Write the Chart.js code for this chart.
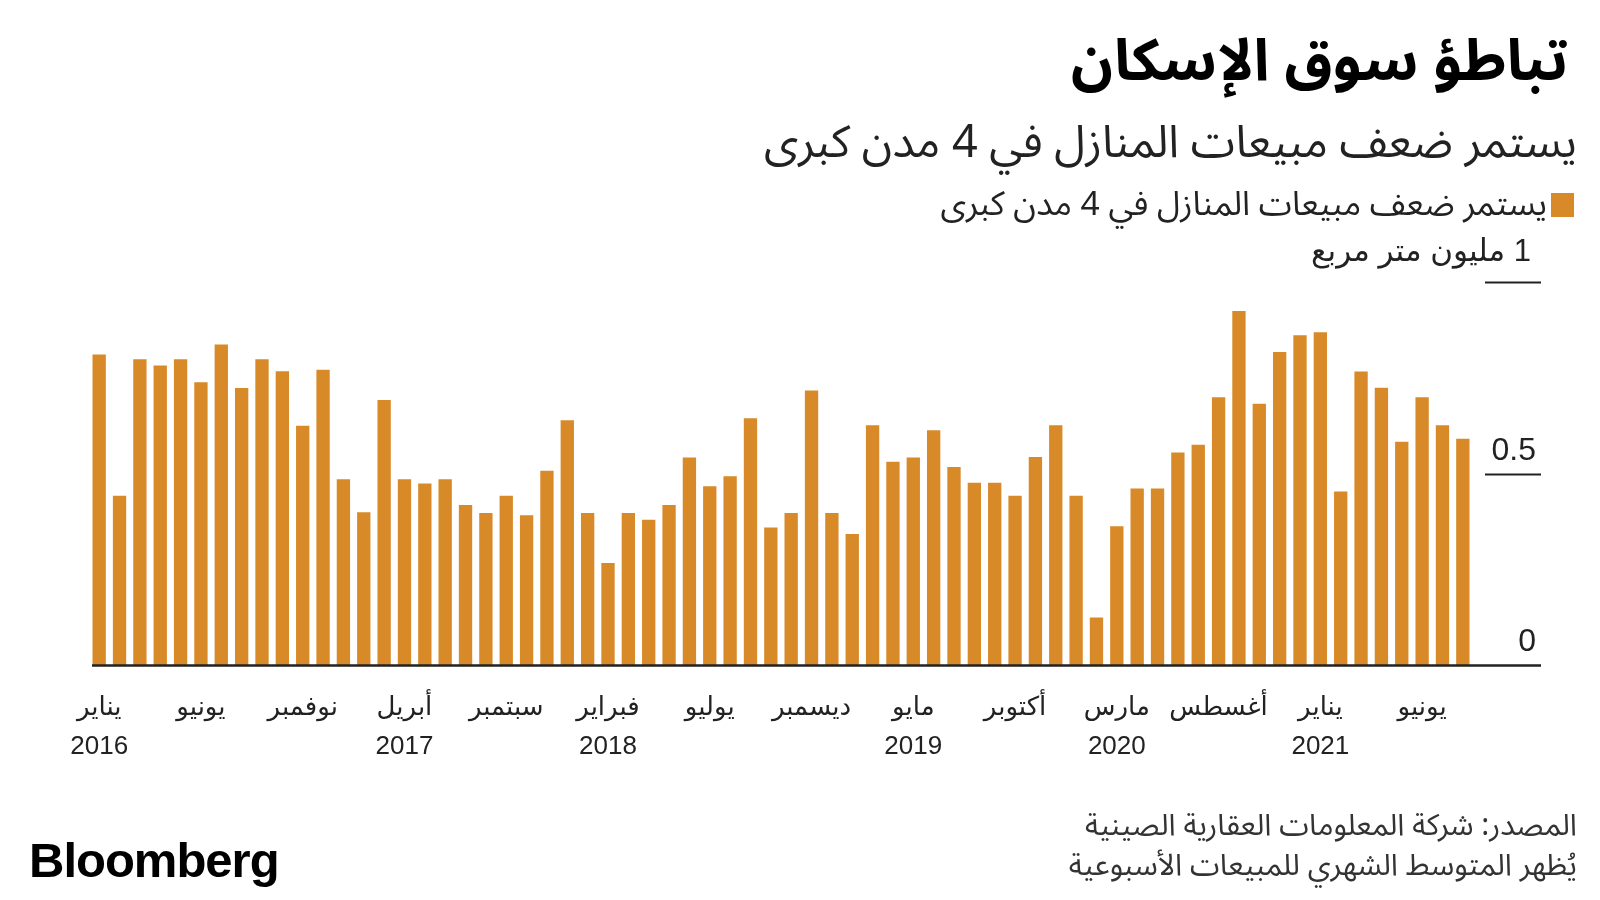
<!DOCTYPE html>
<html lang="ar">
<head>
<meta charset="utf-8">
<title>تباطؤ سوق الإسكان</title>
<script src="https://cdn.jsdelivr.net/npm/chart.js@4.4.1/dist/chart.umd.min.js"></script>
<style>
  html, body { margin: 0; padding: 0; background: #fff; }
  #wrap { position: relative; width: 1600px; height: 900px; overflow: hidden;
          font-family: "Noto Sans Arabic", "DejaVu Sans", sans-serif; color: #111; }
  #chart { position: absolute; left: 0; top: 0; }
  .txt { position: absolute; direction: rtl; white-space: nowrap; line-height: 1; }
  #title { right: 32px; top: 33px; font-size: 58px; font-weight: bold; color: #000; }
  #subtitle { right: 23px; top: 120px; font-size: 45px; color: #222; }
  #legend { right: 26px; top: 188px; font-size: 33.6px; color: #222; }
  #legend .sw { display: inline-block; width: 23px; height: 24px; background: #d98a28;
                margin-left: 4px; vertical-align: -2px; }
  #source { right: 23px; top: 806px; font-size: 30px; color: #333; line-height: 40px; text-align: right; }
  #brand { left: 29px; top: 836px; font-family: "Liberation Sans", Arial, sans-serif;
           font-weight: bold; font-size: 49px; letter-spacing: -1px; color: #000; direction: ltr; }
</style>
</head>
<body>
<div id="wrap">
  <canvas id="chart" width="1600" height="900"></canvas>
  <div class="txt" id="title">تباطؤ سوق الإسكان</div>
  <div class="txt" id="subtitle">يستمر ضعف مبيعات المنازل في 4 مدن كبرى</div>
  <div class="txt" id="legend"><span class="sw"></span>يستمر ضعف مبيعات المنازل في 4 مدن كبرى</div>
  <div class="txt" id="source">المصدر: شركة المعلومات العقارية الصينية<br>يُظهر المتوسط الشهري للمبيعات الأسبوعية</div>
  <div class="txt" id="brand">Bloomberg</div>
</div>
<script>
// months, Jan 2016 .. Aug 2021
const categories = [
  '2016-01','2016-02','2016-03','2016-04','2016-05','2016-06','2016-07','2016-08','2016-09','2016-10','2016-11','2016-12',
  '2017-01','2017-02','2017-03','2017-04','2017-05','2017-06','2017-07','2017-08','2017-09','2017-10','2017-11','2017-12',
  '2018-01','2018-02','2018-03','2018-04','2018-05','2018-06','2018-07','2018-08','2018-09','2018-10','2018-11','2018-12',
  '2019-01','2019-02','2019-03','2019-04','2019-05','2019-06','2019-07','2019-08','2019-09','2019-10','2019-11','2019-12',
  '2020-01','2020-02','2020-03','2020-04','2020-05','2020-06','2020-07','2020-08','2020-09','2020-10','2020-11','2020-12',
  '2021-01','2021-02','2021-03','2021-04','2021-05','2021-06','2021-07','2021-08'
];

// million square metres
const sales = [
  0.811, 0.442, 0.798, 0.782, 0.798, 0.738, 0.837, 0.723, 0.798, 0.767, 0.625, 0.771,
  0.485, 0.399, 0.692, 0.485, 0.474, 0.485, 0.418, 0.397, 0.442, 0.391, 0.507, 0.639,
  0.397, 0.266, 0.397, 0.379, 0.418, 0.542, 0.467, 0.493, 0.644, 0.359, 0.397, 0.717,
  0.397, 0.342, 0.626, 0.531, 0.542, 0.613, 0.517, 0.476, 0.476, 0.442, 0.543, 0.626,
  0.442, 0.124, 0.362, 0.461, 0.461, 0.555, 0.575, 0.699, 0.924, 0.682, 0.817, 0.861,
  0.869, 0.453, 0.766, 0.724, 0.583, 0.699, 0.626, 0.591
];

// x tick labels (every 5th month)
const xTickIndex = [0, 5, 10, 15, 20, 25, 30, 35, 40, 45, 50, 55, 60, 65];
const xTickText = [
  ['يناير', '2016'], ['يونيو'], ['نوفمبر'], ['أبريل', '2017'], ['سبتمبر'],
  ['فبراير', '2018'], ['يوليو'], ['ديسمبر'], ['مايو', '2019'], ['أكتوبر'],
  ['مارس', '2020'], ['أغسطس'], ['يناير', '2021'], ['يونيو']
];

const yTicks = [0, 0.5, 1];
const yTickText = ['0', '0.5', '1 مليون متر مربع'];

const BAR_COLOR = '#d98a28';
const FONT = '"Liberation Sans", "DejaVu Sans", sans-serif';

// baseline + short right-hand gridlines with labels
const axisPlugin = {
  id: 'axisDeco',
  afterDatasetsDraw(chart) {
    const c = chart.ctx;
    const y = chart.scales.y;
    c.save();
    c.strokeStyle = '#222';
    c.fillStyle = '#222';
    c.textAlign = 'right';
    c.textBaseline = 'alphabetic';
    c.direction = 'rtl';
    yTicks.forEach((v, i) => {
      const py = Math.round(y.getPixelForValue(v)) + 0.5;
      c.lineWidth = v === 0 ? 2.5 : 2;
      c.beginPath();
      c.moveTo(v === 0 ? 92 : 1485, py);
      c.lineTo(1541, py);
      c.stroke();
      c.font = (v === 1 ? '31px ' : '32px ') + FONT;
      c.fillText(yTickText[i], v === 1 ? 1531 : 1536, py - (v === 1 ? 22 : 15));
    });
    c.restore();
  }
};

const ctx = document.getElementById('chart').getContext('2d');
new Chart(ctx, {
  type: 'bar',
  data: {
    labels: categories,
    datasets: [{
      data: sales,
      backgroundColor: BAR_COLOR,
      barPercentage: 0.655,
      categoryPercentage: 1
    }]
  },
  options: {
    responsive: false,
    animation: false,
    layout: { padding: { left: 89, right: 127, top: 282, bottom: 111 } },
    plugins: { legend: { display: false }, tooltip: { enabled: false } },
    scales: {
      x: {
        grid: { display: false, drawTicks: false },
        border: { display: false },
        ticks: {
          autoSkip: false,
          maxRotation: 0,
          padding: 23,
          color: '#222',
          font: { size: 26, family: FONT, lineHeight: 1.5 },
          callback: (v, i) => {
            const k = xTickIndex.indexOf(i);
            return k >= 0 ? xTickText[k] : '';
          }
        }
      },
      y: { display: false, min: 0, max: 1 }
    }
  },
  plugins: [axisPlugin]
});
</script>
</body>
</html>
